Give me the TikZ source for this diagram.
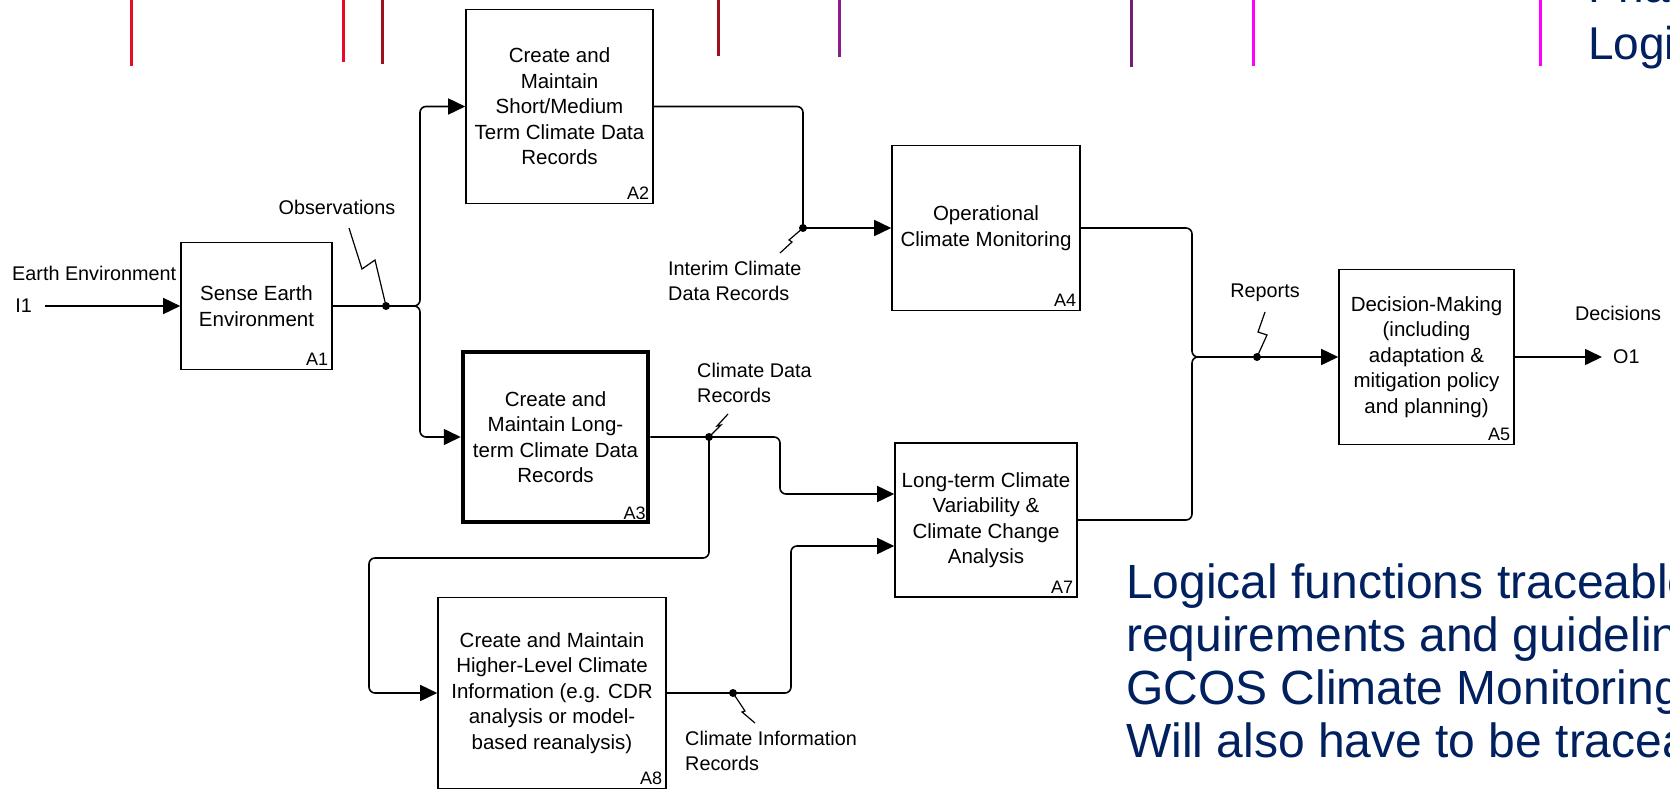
\documentclass[tikz,border=0pt]{standalone}
\usepackage{fontspec}
\setmainfont{Liberation Sans}
\usetikzlibrary{arrows.meta, positioning}

\definecolor{navy}{RGB}{0,32,96}
\definecolor{tickred}{RGB}{232,10,40}
\definecolor{tickdark}{RGB}{158,16,30}
\definecolor{tickpurple}{RGB}{140,28,140}
\definecolor{tickplum}{RGB}{118,30,118}
\definecolor{tickpink}{RGB}{255,0,255}

\begin{document}
\begin{tikzpicture}[
    x=1pt, y=-1pt, % one unit per pixel, y going down
    >={Triangle[length=17pt, width=16pt]}, % Set default arrow tip style
    func/.style={draw, line width=1.6pt, align=center, inner sep=0pt,
        font=\fontsize{20.5}{25.5}\selectfont}, % Style for an activity box
    num/.style={anchor=south east, inner sep=4.5pt, font=\fontsize{18}{18}\selectfont},
    lbl/.style={inner sep=0pt, font=\fontsize{19.8}{25}\selectfont},
    flow/.style={line width=1.6pt, rounded corners=6pt},
    dot/.style={fill, circle, inner sep=0pt, minimum size=8pt},
    squig/.style={line width=1.2pt},
    tick/.style={line width=3pt},
    slide/.style={inner sep=0pt, text=navy, font=\fontsize{48}{53}\selectfont}
]

    % Crop of the slide
    \useasboundingbox (0,0) rectangle (1670,789);
    \fill[white] (0,0) rectangle (1670,789);
    \clip (0,0) rectangle (1670,789);

    % Coloured ticks along the top edge
    \foreach \x/\len/\col in {131/66/tickred, 343/62/tickred, 382/64/tickdark,
        718/56/tickdark, 839/57/tickpurple, 1131/67/tickplum, 1253/66/tickpink, 1540/66/tickpink}
        \draw[tick, \col] (\x,0) -- (\x,\len);

    % Activity boxes
    \node[func, minimum width=151pt, minimum height=127pt] (a1) at (256.5,306) {Sense Earth\\Environment};
    \node[func, minimum width=187pt, minimum height=194pt] (a2) at (559.5,106.5)
        {Create and\\Maintain\\Short/Medium\\Term Climate Data\\Records};
    \node[func, line width=4.5pt, minimum width=185pt, minimum height=170pt] (a3) at (555.5,437)
        {Create and\\Maintain Long-\\term Climate Data\\Records};
    \node[func, minimum width=188pt, minimum height=165pt] (a4) at (986,228) {Operational\\Climate Monitoring};
    \node[func, minimum width=175pt, minimum height=175pt] (a5) at (1426.5,357)
        {Decision-Making\\(including\\adaptation \&\\mitigation policy\\and planning)};
    \node[func, minimum width=182pt, minimum height=154pt] (a7) at (986,520)
        {Long-term Climate\\Variability \&\\Climate Change\\Analysis};
    \node[func, minimum width=228pt, minimum height=191pt] (a8) at (552,693)
        {Create and Maintain\\Higher-Level Climate\\Information (e.g. CDR\\analysis or model-\\based reanalysis)};

    % Box numbers
    \foreach \n in {1,2,3,4,5,7,8}
        \node[num] (n\n) at (a\n.south east) {A\n};

    % Input I1
    \coordinate (earth) at (45,306);
    \draw[flow, ->] (earth) -- (a1.west);
    \node[lbl, left=13pt of earth] (i1) {I1};
    \node[lbl, anchor=west] (envlbl) at (12,273) {Earth Environment};

    % Observations fork into A2 and A3
    \coordinate (obs) at (386,306);
    \coordinate (fork) at (420,306);
    \draw[flow, ->] (a1.east) -- (fork) |- (a2.west);
    \draw[flow, ->] (a1.east) -- (fork) |- (a3.west);
    \node[dot] (obsdot) at (obs) {};
    \node[lbl] (obslbl) at (337,207) {Observations};
    \draw[squig] (obsdot.center) -- ++(-11,-46) -- ++(-13,9) -- ++(-13,-41);

    % Interim records to A4
    \coordinate (icdr) at (803,228);
    \draw[flow] (a2.east) -| (icdr);
    \draw[flow, ->] (icdr) -- (a4.west);
    \node[dot] (icdrdot) at (icdr) {};
    \node[lbl, anchor=west, align=left] (icdrlbl) at (668,280.5) {Interim Climate\\Data Records};
    \draw[squig] (icdrdot.center) -- ++(-14,12) -- ++(3,2) -- ++(-12,11);

    % Climate data records to A7 and A8
    \coordinate (cdr) at (709,437);
    \draw[flow, ->] (a3.east) -- (cdr) -- ++(71,0) |- ([yshift=26pt]a7.west);
    \draw[flow, ->] (cdr) -- ++(0,121) -- ++(-340,0) |- (a8.west);
    \node[dot] (cdrdot) at (cdr) {};
    \node[lbl, anchor=west, align=left] (cdrlbl) at (697,382.5) {Climate Data\\Records};
    \draw[squig] (cdrdot.center) -- ++(12,-12) -- ++(-4,1) -- ++(11,-12);

    % Climate information records to A7
    \coordinate (cir) at (733,693);
    \draw[flow, ->] (a8.east) -- (cir) -- ++(58,0) |- ([yshift=-26pt]a7.west);
    \node[dot] (cirdot) at (cir) {};
    \node[lbl, anchor=west, align=left] (cirlbl) at (685,750.5) {Climate Information\\Records};
    \draw[squig] (cirdot.center) -- ++(12,18) -- ++(-3,1) -- ++(13,11);

    % Reports from A4 and A7 merge into A5
    \coordinate (merge) at (1192,357);
    \coordinate (rep) at (1257,357);
    \draw[flow, ->] (a4.east) -| (merge) -- (a5.west);
    \draw[flow] (a7.east) -| (merge) -- (rep);
    \node[dot] (repdot) at (rep) {};
    \node[lbl] (replbl) at (1265,293) {Reports};
    \draw[squig] (repdot.center) -- ++(10,-22) -- ++(-9,-3) -- ++(7,-20);

    % Output O1
    \coordinate (dec) at (1602,357);
    \draw[flow, ->] (a5.east) -- (dec);
    \node[lbl, right=11pt of dec] (o1) {O1};
    \node[lbl] (declbl) at (1618,313) {Decisions};

    % Slide text, cut by the crop
    \node[slide, font=\fontsize{46}{53}\selectfont, anchor=base west] (hdr1) at (1588,3) {Phase};
    \node[slide, font=\fontsize{46}{53}\selectfont, anchor=base west] (hdr2) at (1588,60) {Logical};
    \foreach \t [count=\i from 0] in {Logical functions traceable, requirements and guidelines,
        GCOS Climate Monitoring, Will also have to be traceable}
        \node[slide, anchor=base west] (note\i) at (1126,{598+53.3*\i}) {\t};

\end{tikzpicture}
\end{document}
